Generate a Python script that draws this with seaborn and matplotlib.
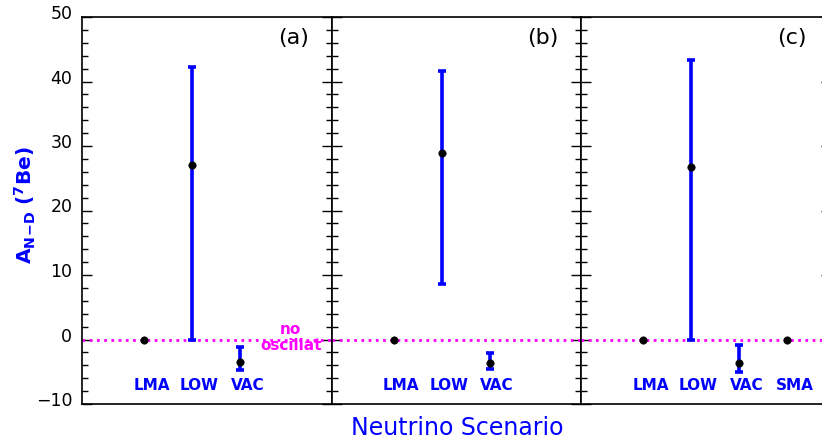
import matplotlib
matplotlib.use("Agg")
import matplotlib.pyplot as plt
import matplotlib.ticker as mticker
import matplotlib.transforms as mtrans
import seaborn as sns
import pandas as pd

# ── Data ─────────────────────────────────────────────────────────────────────
panel_tags = ["(a)", "(b)", "(c)"]

scen_a = ["LMA", "LOW", "VAC"]
val_a = [0.0, 27.0, -3.5]
lo_a = [0.0, 0.0, -4.8]
hi_a = [0.0, 42.2, -1.2]

scen_b = ["LMA", "LOW", "VAC"]
val_b = [0.0, 28.9, -3.7]
lo_b = [0.0, 8.6, -4.6]
hi_b = [0.0, 41.7, -2.1]

scen_c = ["LMA", "LOW", "VAC", "SMA"]
val_c = [0.0, 26.8, -3.7, 0.0]
lo_c = [0.0, 0.0, -5.1, 0.0]
hi_c = [0.0, 43.3, -0.9, 0.0]

scen_pos = {"LMA": 1.3, "LOW": 2.3, "VAC": 3.3, "SMA": 4.3}

panels = [
    (scen_a, val_a, lo_a, hi_a),
    (scen_b, val_b, lo_b, hi_b),
    (scen_c, val_c, lo_c, hi_c),
]

BLUE = "#0000ff"
MAGENTA = "#ff00ff"

sns.set_style("ticks")
plt.rcParams["font.family"] = ["DejaVu Sans"]
plt.rcParams["text.color"] = "black"

W, H = 822, 442
fig = plt.figure(figsize=(W / 100, H / 100), dpi=100)

left0, pw = 82, 249.5
top, bottom = 17, 404

axes = []
for i, (scen, val, lo, hi) in enumerate(panels):
    x0 = left0 + i * pw
    ax = fig.add_axes([x0 / W, 1 - bottom / H, pw / W, (bottom - top) / H])
    axes.append(ax)

    df = pd.DataFrame({"scenario": scen, "value": val, "lo": lo, "hi": hi})
    df["x"] = df["scenario"].map(scen_pos)

    # zero line (no oscillation)
    ax.axhline(0, color=MAGENTA, linestyle=(0, (1, 1.6)), linewidth=2, zorder=1)

    # error bars, only where there is a range
    eb = df[df["hi"] > df["lo"]]
    ax.errorbar(eb["x"], eb["value"],
                yerr=[eb["value"] - eb["lo"], eb["hi"] - eb["value"]],
                fmt="none", ecolor=BLUE, elinewidth=2.6, capsize=3, capthick=2.6,
                zorder=2)

    sns.scatterplot(data=df, x="x", y="value", color="black", s=28,
                    edgecolor="black", linewidth=0.5, zorder=3, ax=ax, legend=False)

    for _, r in df.iterrows():
        ax.text(r["x"] + 0.15, -7.1, r["scenario"], color=BLUE, fontsize=11,
                fontweight="bold", ha="center", va="center")

    ax.text(4.4, 46.7, panel_tags[i], fontsize=16, color="black",
            ha="center", va="center")

    ax.set_xlim(0, pw / 48)
    ax.set_ylim(-10, 50)
    ax.set_xticks([])
    ax.set_xlabel("")
    ax.set_ylabel("")
    ax.yaxis.set_major_locator(mticker.MultipleLocator(10))
    ax.yaxis.set_minor_locator(mticker.MultipleLocator(2))
    ax.tick_params(axis="y", which="both", direction="in", left=True, right=True,
                   width=1, color="black", labelcolor="black")
    ax.tick_params(axis="y", which="major", length=7)
    ax.tick_params(axis="y", which="minor", length=4.3)
    for sp in ax.spines.values():
        sp.set_visible(True)
        sp.set_linewidth(1.2)
        sp.set_color("black")
    if i > 0:
        ax.tick_params(axis="y", labelleft=False)

# tick labels on the first panel, nudged slightly upward like the reference
ax0 = axes[0]
ax0.tick_params(axis="y", which="major", labelsize=12.5, pad=7)
shift = mtrans.ScaledTranslation(0, 5 / 100, fig.dpi_scale_trans)
for lbl in ax0.get_yticklabels():
    lbl.set_transform(lbl.get_transform() + shift)

ax0.text(4.35, 0.3, "no\noscillat", color=MAGENTA, fontsize=11, fontweight="bold",
         ha="center", va="center", linespacing=1.05)

fig.text(25 / W, 1 - 205 / H, r"A$_{\mathregular{N\!-\!D}}$ ($^{\mathregular{7}}$Be)",
         color=BLUE, fontsize=14.5, fontweight="bold", rotation=90,
         ha="center", va="center")
fig.text(457 / W, 1 - 428 / H, "Neutrino Scenario", color=BLUE, fontsize=17,
         ha="center", va="center")

fig.savefig("out.png", dpi=100)
